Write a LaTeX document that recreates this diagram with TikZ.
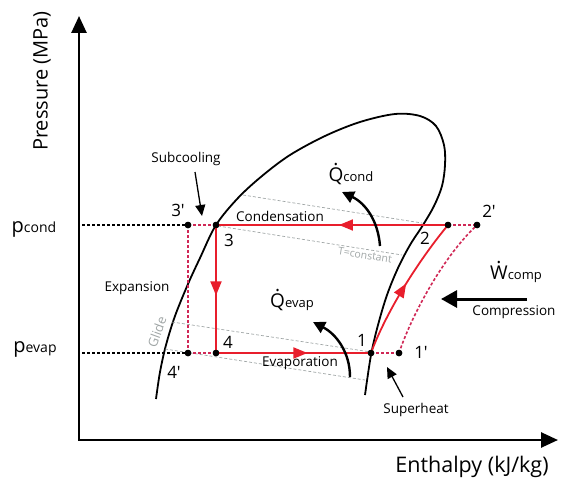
\documentclass[tikz,border=0pt]{standalone}
\usepackage{fontspec}
\setmainfont{Open Sans}
\usetikzlibrary{arrows.meta,decorations.markings}
\definecolor{cred}{RGB}{232,30,44}
\definecolor{dred}{RGB}{208,40,86}
\definecolor{lgray}{RGB}{160,166,166}
\newcommand{\dotover}[2]{\ooalign{\hfil\raisebox{#2}{.}\hfil\cr#1\cr}}
\begin{document}
\begin{tikzpicture}[x=1pt,y=-1pt,
  lbl/.style={font=\fontsize{13.5}{14}\selectfont},
  num/.style={font=\fontsize{17}{17}\selectfont},
  dot/.style={circle,fill=black,inner sep=0pt,minimum size=6.5pt},
  axisline/.style={line width=2.6pt,{Triangle[length=17pt,width=15pt]}-{Triangle[length=17pt,width=15pt]}},
  redsolid/.style={cred,line width=1.8pt},
  reddash/.style={dred,line width=1.6pt,dash pattern=on 3pt off 2pt},
  blkdash/.style={black,line width=1.3pt,dash pattern=on 3pt off 2pt},
  isoline/.style={lgray,line width=0.7pt,dash pattern=on 3pt off 2pt},
  midarrow/.style={postaction={decorate},decoration={markings,mark=at position #1 with {\arrow{Triangle[length=14pt,width=11pt]}}}},
  qarrow/.style={line width=2.4pt,-{Triangle[length=12pt,width=12pt]}},
  thinarrow/.style={line width=1.3pt,-{Triangle[length=11pt,width=10pt]}},
  bigarrow/.style={line width=3pt,-{Triangle[length=16pt,width=17pt]}},
  glabel/.style={text=lgray}
]
\useasboundingbox (0,0) rectangle (561,481);

% axes
\coordinate (ytip) at (79,16);
\coordinate (O) at (79,440);
\coordinate (xtip) at (558,440);
\draw[axisline,line join=miter] (ytip) -- (O) -- (xtip);
\node[rotate=90,font=\fontsize{20}{20}\selectfont] (ylab) at (42,81) {Pressure (MPa)};
\node[font=\fontsize{21.5}{22}\selectfont] (xlab) at (472,467) {Enthalpy (kJ/kg)};

% pressure labels
\node (pcondlab) at (34,229) {{\fontsize{20}{20}\selectfont p}{\fontsize{14}{14}\selectfont cond}};
\node (pevaplab) at (35,349) {{\fontsize{20}{20}\selectfont p}{\fontsize{14}{14}\selectfont evap}};

% saturation dome
\draw[line width=1.8pt] plot[smooth,tension=0.55] coordinates {
 (156,399) (160,372) (166,345) (175,316) (188,284) (200,258) (216,225) (238,198)
 (262,176) (290,155) (325,136) (360,122) (395,114) (420,116) (436,126) (444,145)
 (445,165) (442,186) (434,206) (423,225) (410,245) (398,268) (387,295) (378,325)
 (371,355) (365,395)};

% isotherms
\coordinate (i1a) at (243,195); \coordinate (i1b) at (422,223);
\coordinate (i2a) at (218,226); \coordinate (i2b) at (402,255);
\coordinate (i3a) at (172,322); \coordinate (i3b) at (371,352);
\coordinate (i4a) at (165,349); \coordinate (i4b) at (365,380);
\draw[isoline] (i1a) -- (i1b);
\draw[isoline] (i2a) -- (i2b);
\draw[isoline] (i3a) -- (i3b);
\draw[isoline] (i4a) -- (i4b);
\node[glabel,rotate=70,inner sep=0pt,font=\fontsize{13}{13}\selectfont] (glide) at (157,332) {Glide};
\node[glabel,rotate=-9,inner sep=0pt,font=\fontsize{10.5}{11}\selectfont] (tconst) at (365,255) {T=constant};

% state points
\node[dot] (p3p) at (188,225) {};
\node[dot] (p3) at (216,225) {};
\node[dot] (p4p) at (188,353) {};
\node[dot] (p4) at (216,353) {};
\node[dot] (p1) at (371,353) {};
\node[dot] (p1p) at (399,353) {};
\node[dot] (p2) at (448,225) {};
\node[dot] (p2p) at (477,225) {};

% pressure dashed lines
\coordinate (pc) at (82,225);
\coordinate (pe) at (82,353);
\draw[blkdash] (pc) -- (p3p.center);
\draw[blkdash] (pe) -- (p4p.center);

% real cycle (dashed)
\draw[reddash] (p3p.center) -- (p3.center);
\draw[reddash] (p3p.center) -- (p4p.center);
\draw[reddash] (p4p.center) -- (p4.center);
\draw[reddash] (p1.center) -- (p1p.center);
\draw[reddash] (p2.center) -- (p2p.center);
\draw[reddash] (p1p.center) .. controls (410,320) and (440,260) .. (p2p.center);

% ideal cycle (solid)
\draw[redsolid,midarrow=0.55] (p3.center) -- (p4.center);
\draw[redsolid,midarrow=0.59] (p4.center) -- (p1.center);
\draw[redsolid,midarrow=0.52] (p1.center) .. controls (385,315) and (415,265) .. (p2.center);
\draw[redsolid,midarrow=0.47] (p2.center) -- (p3.center);

% redraw dots on top
\foreach \p in {p3p,p3,p4p,p4,p1,p1p,p2,p2p} \fill (\p) circle (3.25pt);

% point labels
\node[num] (l3p) at (178,210) {3\textquotesingle};
\node[num] (l3) at (229,240) {3};
\node[num] (l4) at (228,342) {4};
\node[num] (l4p) at (174,372) {4\textquotesingle};
\node[num] (l1) at (362,340) {1};
\node[num] (l1p) at (421,352) {1\textquotesingle};
\node[num] (l2) at (425,238) {2};
\node[num] (l2p) at (489,211) {2\textquotesingle};

% process labels
\node[lbl] (cond) at (280,216) {Condensation};
\node[lbl] (evap) at (300,363) {Evaporation};
\node[lbl] (expn) at (137,288) {Expansion};
\node[lbl] (comp) at (514,312) {Compression};
\node[lbl] (subc) at (186,159) {Subcooling};
\node[lbl] (suph) at (416,410) {Superheat};

% heat and work labels
\node (qcond) at (351,174) {{\fontsize{19}{19}\selectfont\dotover{Q}{0.8em}}{\fontsize{13}{13}\selectfont cond}};
\node (qevap) at (292,300) {{\fontsize{19}{19}\selectfont\dotover{Q}{0.8em}}{\fontsize{13}{13}\selectfont evap}};
\node (wcomp) at (516,272) {{\fontsize{19}{19}\selectfont\dotover{W}{0.8em}}{\fontsize{13}{13}\selectfont comp}};

% heat arrows
\coordinate (qc1) at (380,246); \coordinate (qc2) at (342,192);
\draw[qarrow] (qc1) .. controls (378,220) and (365,203) .. (qc2);
\coordinate (qe1) at (350,377); \coordinate (qe2) at (313,322);
\draw[qarrow] (qe1) .. controls (350,352) and (336,334) .. (qe2);

% compression arrow
\coordinate (w1) at (527,299); \coordinate (w2) at (441,299);
\draw[bigarrow] (w1) -- (w2);

% annotation arrows
\coordinate (sc1) at (195,172); \coordinate (sc2) at (202,216);
\draw[thinarrow] (sc1) -- (sc2);
\coordinate (sh1) at (403,397); \coordinate (sh2) at (387,367);
\draw[thinarrow] (sh1) -- (sh2);
\end{tikzpicture}
\end{document}
